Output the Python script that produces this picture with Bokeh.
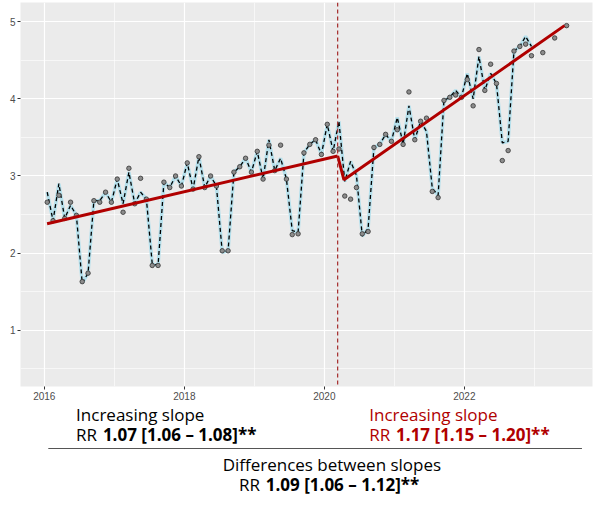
import numpy as np
from bokeh.plotting import figure
from bokeh.layouts import column
from bokeh.models import Span, FixedTicker, Range1d
from bokeh.core.properties import value
from bokeh.embed import file_html
from bokeh.resources import INLINE

# Data section ##################################################################

fitted = [
    2.79, 2.42, 2.90, 2.45, 2.62, 2.49, 1.61, 1.74, 2.68, 2.68, 2.79, 2.66,
    2.96, 2.64, 3.05, 2.64, 2.79, 2.70, 1.86, 1.84, 2.92, 2.85, 3.00, 2.87,
    3.17, 2.83, 3.25, 2.85, 3.00, 2.87, 2.01, 2.03, 3.05, 3.12, 3.23, 3.05,
    3.32, 2.96, 3.47, 3.07, 3.23, 2.96, 2.29, 2.27, 3.30, 3.41, 3.47, 3.28,
    3.67, 3.32, 3.71, 2.93, 3.19, 3.01, 2.22, 2.32, 3.37, 3.41, 3.54, 3.45,
    3.76, 3.41, 3.91, 3.47, 3.71, 3.58, 2.84, 2.75, 3.98, 4.02, 4.11, 4.02,
    4.33, 4.00, 4.55, 4.11, 4.33, 4.20, 3.43, 3.45, 4.62, 4.68, 4.81, 4.68,
]
observed = [
    2.66, 2.42, 2.75, 2.45, 2.66, 2.49, 1.63, 1.74, 2.68, 2.66, 2.79, 2.66,
    2.96, 2.53, 3.10, 2.64, 2.97, 2.70, 1.84, 1.84, 2.92, 2.85, 3.00, 2.87,
    3.17, 2.83, 3.25, 2.85, 3.00, 2.87, 2.03, 2.03, 3.05, 3.12, 3.23, 3.05,
    3.32, 2.96, 3.40, 3.07, 3.40, 2.96, 2.24, 2.25, 3.30, 3.41, 3.47, 3.28,
    3.67, 3.32, 3.35, 2.74, 2.70, 2.85, 2.25, 2.28, 3.37, 3.41, 3.54, 3.45,
    3.60, 3.41, 4.09, 3.47, 3.71, 3.75, 2.80, 2.72, 3.98, 4.02, 4.05, 4.02,
    4.25, 3.91, 4.64, 4.11, 4.45, 4.20, 3.20, 3.33, 4.62, 4.68, 4.71, 4.56,
]
extra_x = [2023.12, 2023.29, 2023.46]
extra_y = [4.60, 4.79, 4.95]

interruption = 2020.19
trend_x1 = [2016.04, 2020.19]
trend_y1 = [2.38, 3.26]
trend_x2 = [2020.19, 2020.28, 2023.43]
trend_y2 = [3.26, 2.95, 4.95]

months = 2016 + (np.arange(len(fitted)) + 0.5) / 12

red = "#B00000"
font = "Open Sans"

# Plot section ##################################################################

p = figure(width=597, height=402, x_range=(2015.66, 2023.83), y_range=(0.27, 5.25),
           output_backend="svg", toolbar_location=None,
           min_border_left=20, min_border_right=5, min_border_top=2, min_border_bottom=14)
p.background_fill_color = "#EBEBEB"
p.outline_line_color = None

p.xaxis.ticker = FixedTicker(ticks=[2016, 2018, 2020, 2022], minor_ticks=[2017, 2019, 2021, 2023])
p.yaxis.ticker = FixedTicker(ticks=[1, 2, 3, 4, 5], minor_ticks=[0.5, 1.5, 2.5, 3.5, 4.5])
for ax in [p.xaxis, p.yaxis]:
    ax.axis_line_color = None
    ax.major_tick_line_color = "#333333"
    ax.major_tick_out = 3
    ax.major_tick_in = 0
    ax.minor_tick_line_color = None
    ax.major_label_text_font_size = "7.5pt"
    ax.major_label_text_color = "#4D4D4D"
    ax.major_label_standoff = 1
for g in [p.xgrid, p.ygrid]:
    g.grid_line_color = "white"
    g.grid_line_width = 1.2
    g.minor_grid_line_color = "white"
    g.minor_grid_line_width = 0.6

p.line(months, fitted, line_color="#B5E0EC", line_width=3.5)
p.line(months, fitted, line_color="black", line_dash="4 3", line_width=1.3)
p.scatter(months, observed, size=4.5, fill_color="#8C8C8C", line_color="#333333", line_width=0.8)
p.scatter(extra_x, extra_y, size=4.5, fill_color="#8C8C8C", line_color="#333333", line_width=0.8)
p.line(trend_x1, trend_y1, line_color=red, line_width=3)
p.line(trend_x2, trend_y2, line_color=red, line_width=3)
p.add_layout(Span(location=interruption, dimension="height", line_color="#A52A2A",
                  line_dash="4 3", line_width=1.2))

# Text panel below the chart ####################################################

t = figure(width=597, height=93, x_range=Range1d(0, 597), y_range=Range1d(93, 0),
           output_backend="svg", toolbar_location=None,
           min_border=0, outline_line_color=None)
t.axis.visible = False
t.grid.visible = False

def add_text(x, y, txt, color="black", bold=False, align="left"):
    t.text([x], [y], text=[txt], text_font=value(font), text_font_size="17px",
           text_color=color, text_font_style="bold" if bold else "normal",
           text_baseline="top", text_align=align)

add_text(58, 0, "Increasing slope")
add_text(58, 20, "RR")
add_text(86, 20, "1.07 [1.06 – 1.08]**", bold=True)
add_text(364, 0, "Increasing slope", color=red)
add_text(364, 20, "RR", color=red)
add_text(392, 20, "1.17 [1.15 – 1.20]**", color=red, bold=True)
add_text(325, 50, "Differences between slopes", align="center")
add_text(228, 70, "RR")
add_text(256, 70, "1.09 [1.06 – 1.12]**", bold=True)
t.line([29, 586], [46, 46], line_color="#555555", line_width=1)

layout = column(p, t, spacing=0)
open("out.html", "w").write(file_html(layout, INLINE))
